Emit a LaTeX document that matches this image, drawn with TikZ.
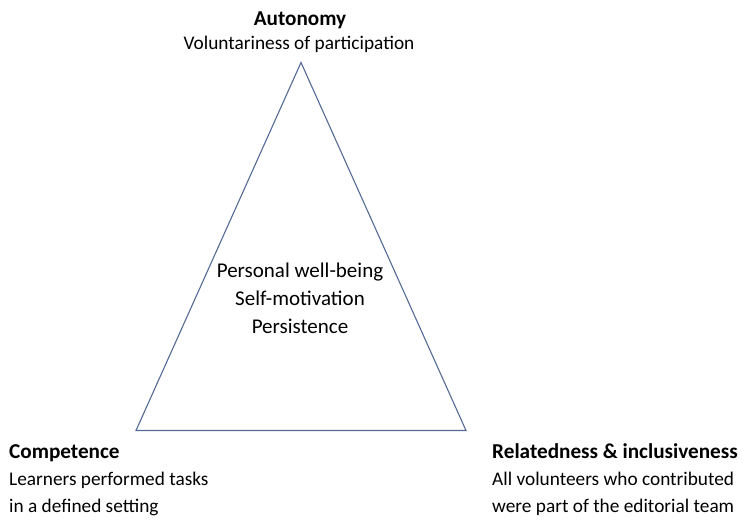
\documentclass[tikz,border=0pt]{standalone}
\usepackage{fontspec}
\setmainfont{Carlito}
\begin{document}
\begin{tikzpicture}[x=1pt,y=-1pt,
  label text/.style={font=\fontsize{19.3}{23}\selectfont, inner sep=0pt},
  head text/.style={font=\fontsize{21.2}{25}\selectfont\bfseries, inner sep=0pt},
  centre text/.style={font=\fontsize{21}{25}\selectfont, inner sep=0pt}]
\useasboundingbox (0,0) rectangle (744,524);

%triangle
\coordinate (apex) at (301,62.5);
\coordinate (left) at (136,430.5);
\coordinate (right) at (466,430.5);
\draw [color={rgb, 255:red, 84; green, 106; blue, 150 }, line width=1.1pt] (apex) -- (right) -- (left) -- cycle;

%top
\node (autonomy) [head text, anchor=base] at (300,26) {Autonomy};
\node (voluntary) [label text, anchor=base] at (299,50) {Voluntariness of participation};

%centre
\node (wellbeing) [centre text, anchor=base] at (300,277) {Personal well-being};
\node (motivation) [centre text, anchor=base] at (300,305) {Self-motivation};
\node (persistence) [centre text, anchor=base] at (300,333) {Persistence};

%bottom left
\node (competence) [head text, anchor=base west] at (9,458) {Competence};
\node (learners) [label text, anchor=base west] at (9,485) {Learners performed tasks};
\node (setting) [label text, anchor=base west] at (9,512.5) {in a defined setting};

%bottom right
\node (related) [head text, anchor=base west] at (492,458) {Relatedness \& inclusiveness};
\node (volunteers) [label text, anchor=base west] at (492,485) {All volunteers who contributed};
\node (editorial) [label text, anchor=base west] at (492,512.5) {were part of the editorial team};

\end{tikzpicture}
\end{document}
